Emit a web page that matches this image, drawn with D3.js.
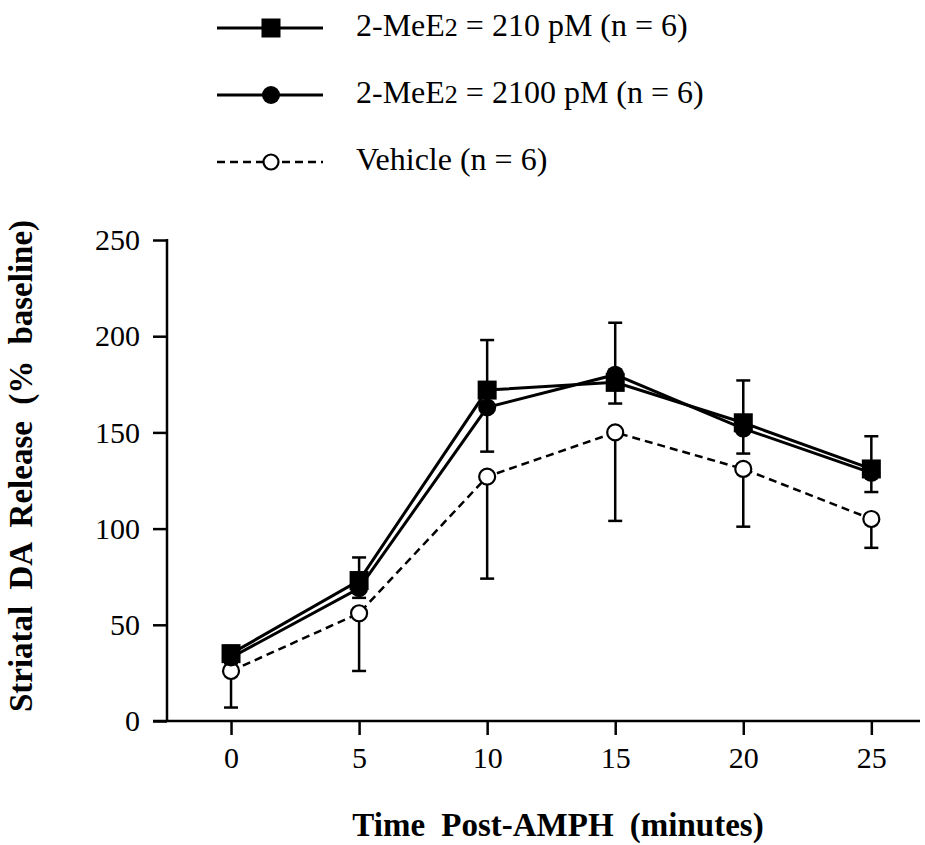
<!DOCTYPE html>
<html>
<head>
<meta charset="utf-8">
<script src="https://cdn.jsdelivr.net/npm/d3@7"></script>
<style>
  body { margin: 0; background: #fff; }
  svg text { font-family: "Liberation Serif", "Times New Roman", serif; fill: #000; }
</style>
</head>
<body>
<div id="chart"></div>
<script>
// time points (minutes post-AMPH)
const times = [0, 5, 10, 15, 20, 25];

// 2-MeE2 = 210 pM (filled squares), error drawn upward
const dose210 = [35, 73, 172, 176, 155, 131];
const dose210Err = [4, 12, 26, 31, 22, 17];

// 2-MeE2 = 2100 pM (filled circles), error drawn downward
const dose2100 = [33, 69, 163, 180, 152, 129];
const dose2100Err = [3, 5, 23, 15, 13, 10];

// vehicle (open circles), error drawn downward
const vehicle = [26, 56, 127, 150, 131, 105];
const vehicleErr = [19, 30, 53, 46, 30, 15];

const yTicks = [0, 50, 100, 150, 200, 250];
const legendLabels = ["2-MeE2 = 210 pM (n = 6)", "2-MeE2 = 2100 pM (n = 6)", "Vehicle (n = 6)"];

const width = 925, height = 845;

const svg = d3.select('#chart')
    .append('svg')
    .attr('width', width)
    .attr('height', height);

const x = d3.scaleLinear().domain([-2.5, 26.9]).range([167, 920]);
const y = d3.scaleLinear().domain([0, 250]).range([721, 240]);

// axes
const yAxis = svg.append('g')
    .attr('transform', `translate(${x(-2.5)},0)`)
    .call(d3.axisLeft(y).tickValues(yTicks).tickSize(14).tickPadding(13));
const xAxis = svg.append('g')
    .attr('transform', `translate(0,${y(0)})`)
    .call(d3.axisBottom(x).tickValues(times).tickSize(14).tickPadding(12));

[yAxis, xAxis].forEach(g => {
    g.select('.domain').remove();
    g.selectAll('line').attr('stroke', '#000').attr('stroke-width', 2.5);
    g.selectAll('text').style('font-size', '30px').attr('font-family', null);
});

// axis lines (x axis runs a bit left of the y axis)
svg.append('line')
    .attr('x1', x(-2.5) - 14).attr('x2', x.range()[1])
    .attr('y1', y(0)).attr('y2', y(0))
    .attr('stroke', '#000').attr('stroke-width', 2.5);
svg.append('line')
    .attr('x1', x(-2.5)).attr('x2', x(-2.5))
    .attr('y1', y(0) + 1).attr('y2', y(250) - 1)
    .attr('stroke', '#000').attr('stroke-width', 2.5);

// titles
svg.append('text')
    .attr('x', 558).attr('y', 836)
    .attr('text-anchor', 'middle')
    .style('font-size', '33px').style('font-weight', 'bold').style('word-spacing', '8px')
    .text('Time Post-AMPH (minutes)');
svg.append('text')
    .attr('transform', 'translate(32,466) rotate(-90)')
    .attr('text-anchor', 'middle')
    .style('font-size', '33px').style('font-weight', 'bold').style('word-spacing', '8px')
    .text('Striatal DA Release (% baseline)');

// error bars
function errorBars(vals, errs, dir) {
    const g = svg.append('g').attr('stroke', '#000').attr('stroke-width', 2.5);
    times.forEach((t, i) => {
        const end = vals[i] + dir * errs[i];
        g.append('line')
            .attr('x1', x(t)).attr('x2', x(t))
            .attr('y1', y(vals[i])).attr('y2', y(end));
        g.append('line')
            .attr('x1', x(t) - 7).attr('x2', x(t) + 7)
            .attr('y1', y(end)).attr('y2', y(end));
    });
}
errorBars(vehicle, vehicleErr, -1);
errorBars(dose2100, dose2100Err, -1);
errorBars(dose210, dose210Err, 1);

const line = d3.line().x((d, i) => x(times[i])).y(d => y(d));

svg.append('path').datum(vehicle).attr('d', line)
    .attr('fill', 'none').attr('stroke', '#000').attr('stroke-width', 2.5)
    .attr('stroke-dasharray', '8,5');
svg.append('path').datum(dose2100).attr('d', line)
    .attr('fill', 'none').attr('stroke', '#000').attr('stroke-width', 3);
svg.append('path').datum(dose210).attr('d', line)
    .attr('fill', 'none').attr('stroke', '#000').attr('stroke-width', 3);

// markers
svg.selectAll('.vc').data(vehicle).enter().append('circle')
    .attr('cx', (d, i) => x(times[i])).attr('cy', d => y(d)).attr('r', 8)
    .attr('fill', '#fff').attr('stroke', '#000').attr('stroke-width', 2.2);
svg.selectAll('.fc').data(dose2100).enter().append('circle')
    .attr('cx', (d, i) => x(times[i])).attr('cy', d => y(d)).attr('r', 9)
    .attr('fill', '#000');
svg.selectAll('.sq').data(dose210).enter().append('rect')
    .attr('x', (d, i) => x(times[i]) - 9.5).attr('y', d => y(d) - 9.5)
    .attr('width', 19).attr('height', 19)
    .attr('fill', '#000');

// legend
const legendY = [28, 95, 162];
legendLabels.forEach((label, i) => {
    const g = svg.append('g').attr('transform', `translate(0,${legendY[i]})`);
    g.append('line')
        .attr('x1', 217).attr('x2', 323).attr('y1', 0).attr('y2', 0)
        .attr('stroke', '#000').attr('stroke-width', i === 2 ? 2.5 : 3)
        .attr('stroke-dasharray', i === 2 ? '8,5' : null);
    if (i === 0) {
        g.append('rect').attr('x', 261.5).attr('y', -9.5).attr('width', 19).attr('height', 19).attr('fill', '#000');
    } else if (i === 1) {
        g.append('circle').attr('cx', 271).attr('cy', 0).attr('r', 9).attr('fill', '#000');
    } else {
        g.append('circle').attr('cx', 271).attr('cy', 0).attr('r', 7.5)
            .attr('fill', '#fff').attr('stroke', '#000').attr('stroke-width', 2.2);
    }
    const t = g.append('text').attr('x', 356).attr('y', 8).style('font-size', '32px');
    const m = label.match(/^(2-MeE)2(.*)$/);
    if (m) {
        t.append('tspan').text(m[1]);
        t.append('tspan').style('font-size', '26px').text('2');
        t.append('tspan').text(m[2]);
    } else {
        t.text(label);
    }
});
</script>
</body>
</html>
